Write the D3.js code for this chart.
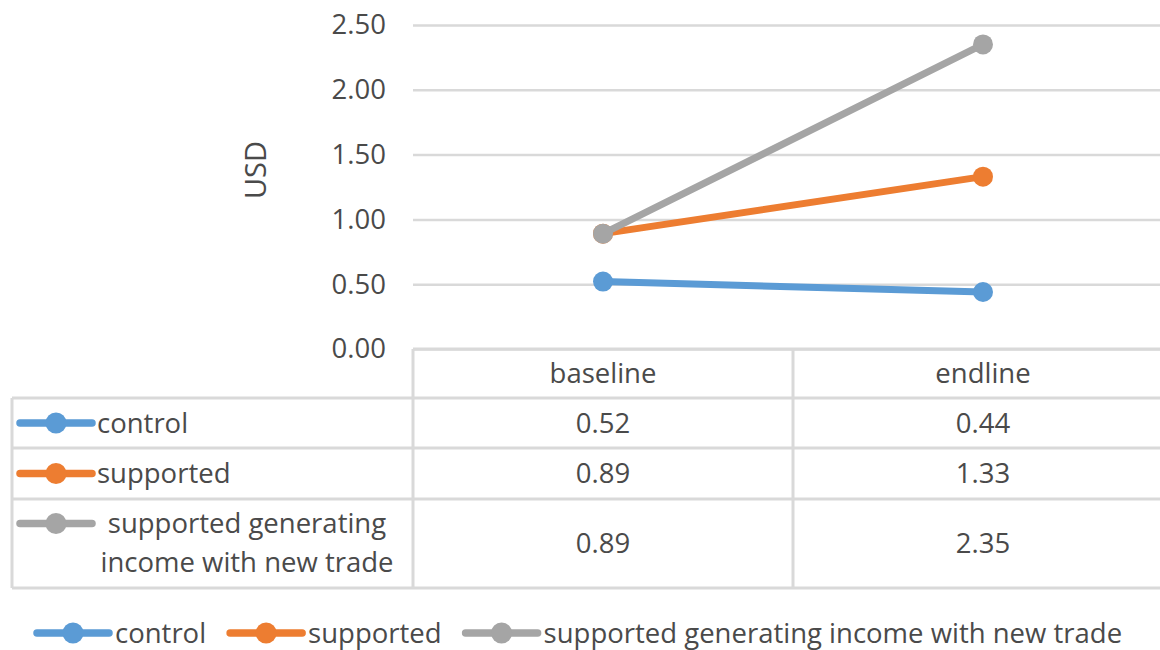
<!DOCTYPE html>
<html>
<head>
<meta charset="utf-8">
<script src="https://cdn.jsdelivr.net/npm/d3@7"></script>
<style>
  html, body { margin: 0; padding: 0; background: #fff; }
  svg { display: block; font-family: "Open Sans", sans-serif; }
</style>
</head>
<body>
<svg id="chart" width="1160" height="650"></svg>
<script>
// Average daily income in USD, baseline vs endline
const periods = ["baseline", "endline"];
const seriesNames = ["control", "supported", "supported generating income with new trade"];
const seriesLabelLines = [["control"], ["supported"], ["supported generating", "income with new trade"]];
const controlValues = [0.52, 0.44];
const supportedValues = [0.89, 1.33];
const newTradeValues = [0.89, 2.35];
const yTicks = [0, 0.5, 1.0, 1.5, 2.0, 2.5];
const colors = ["#5B9BD5", "#ED7D31", "#A5A5A5"];

const seriesValues = [controlValues, supportedValues, newTradeValues];

const svg = d3.select("#chart");
const textColor = "#4a4a4a";
const gridColor = "#D9D9D9";
const fontSize = 27.5;

const plotLeft = 413, plotRight = 1173, plotTop = 25, plotBottom = 349;

const x = d3.scaleBand().domain(periods).range([plotLeft, plotRight]).padding(0);
const y = d3.scaleLinear().domain([0, 2.5]).range([plotBottom, plotTop]);

// gridlines and value axis labels
const yAxis = d3.axisLeft(y)
  .tickValues(yTicks)
  .tickFormat(d3.format(".2f"))
  .tickSize(-(plotRight - plotLeft))
  .tickPadding(27);
const gy = svg.append("g").attr("transform", `translate(${plotLeft},0)`).call(yAxis);
gy.select(".domain").remove();
gy.selectAll(".tick line").attr("stroke", gridColor).attr("stroke-width", 2.5);
gy.selectAll(".tick text")
  .attr("fill", textColor)
  .attr("font-size", fontSize)
  .attr("font-family", "Open Sans, sans-serif");

// axis title
svg.append("text")
  .attr("transform", `translate(266,170) rotate(-90)`)
  .attr("text-anchor", "middle")
  .attr("fill", textColor)
  .attr("font-size", 29)
  .text("USD");

// data table geometry
const tableLeft = 12;
const rowEdges = [349, 398, 448, 499, 588];
const bandEdges = [plotLeft, plotLeft + x.bandwidth(), plotRight];

const tbl = svg.append("g").attr("stroke", gridColor).attr("stroke-width", 3).attr("fill", "none");
// row separators
rowEdges.slice(1).forEach(ry => {
  tbl.append("line").attr("x1", tableLeft).attr("x2", 1160).attr("y1", ry).attr("y2", ry);
});
// top edge of header (category axis line)
tbl.append("line").attr("x1", plotLeft).attr("x2", 1160).attr("y1", rowEdges[0]).attr("y2", rowEdges[0]);
// vertical lines
bandEdges.forEach(bx => {
  tbl.append("line").attr("x1", bx).attr("x2", bx).attr("y1", rowEdges[0]).attr("y2", rowEdges[4]);
});
tbl.append("line").attr("x1", tableLeft).attr("x2", tableLeft).attr("y1", rowEdges[1]).attr("y2", rowEdges[4]);

// header labels
svg.append("g").selectAll("text").data(periods).join("text")
  .attr("x", d => x(d) + x.bandwidth() / 2)
  .attr("y", (rowEdges[0] + rowEdges[1]) / 2)
  .attr("dy", "0.35em")
  .attr("text-anchor", "middle")
  .attr("fill", textColor)
  .attr("font-size", fontSize)
  .text(d => d);

// legend key: thick line with a dot in the middle
function legendKey(g, cx, cy, color) {
  g.append("line").attr("x1", cx - 36).attr("x2", cx + 36).attr("y1", cy).attr("y2", cy)
    .attr("stroke", color).attr("stroke-width", 7.5).attr("stroke-linecap", "round");
  g.append("circle").attr("cx", cx).attr("cy", cy).attr("r", 10.5).attr("fill", color);
}

// table rows: legend key, label, values
const rows = svg.append("g");
seriesNames.forEach((name, i) => {
  const top = rowEdges[i + 1], bottom = rowEdges[i + 2];
  const mid = (top + bottom) / 2;
  const lines = seriesLabelLines[i];
  const keyY = lines.length > 1 ? mid - 20 : mid;
  legendKey(rows, 56, keyY, colors[i]);
  if (lines.length === 1) {
    rows.append("text").attr("x", 97).attr("y", mid).attr("dy", "0.35em")
      .attr("fill", textColor).attr("font-size", fontSize).text(lines[0]);
  } else {
    lines.forEach((ln, k) => {
      rows.append("text").attr("x", 247).attr("y", mid - 20 + k * 39).attr("dy", "0.35em")
        .attr("text-anchor", "middle")
        .attr("fill", textColor).attr("font-size", fontSize).text(ln);
    });
  }
  periods.forEach((p, j) => {
    rows.append("text")
      .attr("x", x(p) + x.bandwidth() / 2)
      .attr("y", mid).attr("dy", "0.35em")
      .attr("text-anchor", "middle")
      .attr("fill", textColor).attr("font-size", fontSize)
      .text(d3.format(".2f")(seriesValues[i][j]));
  });
});

// series lines and markers
const line = d3.line()
  .x((d, j) => x(periods[j]) + x.bandwidth() / 2)
  .y(d => y(d));

const series = svg.append("g");
seriesValues.forEach((vals, i) => {
  series.append("path").datum(vals)
    .attr("d", line)
    .attr("fill", "none")
    .attr("stroke", colors[i])
    .attr("stroke-width", 7)
    .attr("stroke-linecap", "round");
  series.selectAll(null).data(vals).join("circle")
    .attr("cx", (d, j) => x(periods[j]) + x.bandwidth() / 2)
    .attr("cy", d => y(d))
    .attr("r", 10)
    .attr("fill", colors[i]);
});

// bottom legend
const legend = svg.append("g");
let lx = 35;
const ly = 633;
seriesNames.forEach((name, i) => {
  legendKey(legend, lx + 38, ly, colors[i]);
  const t = legend.append("text").attr("x", lx + 80).attr("y", ly).attr("dy", "0.35em")
    .attr("fill", textColor).attr("font-size", fontSize).text(name);
  lx = lx + 80 + t.node().getComputedTextLength() + 22;
});
</script>
</body>
</html>
